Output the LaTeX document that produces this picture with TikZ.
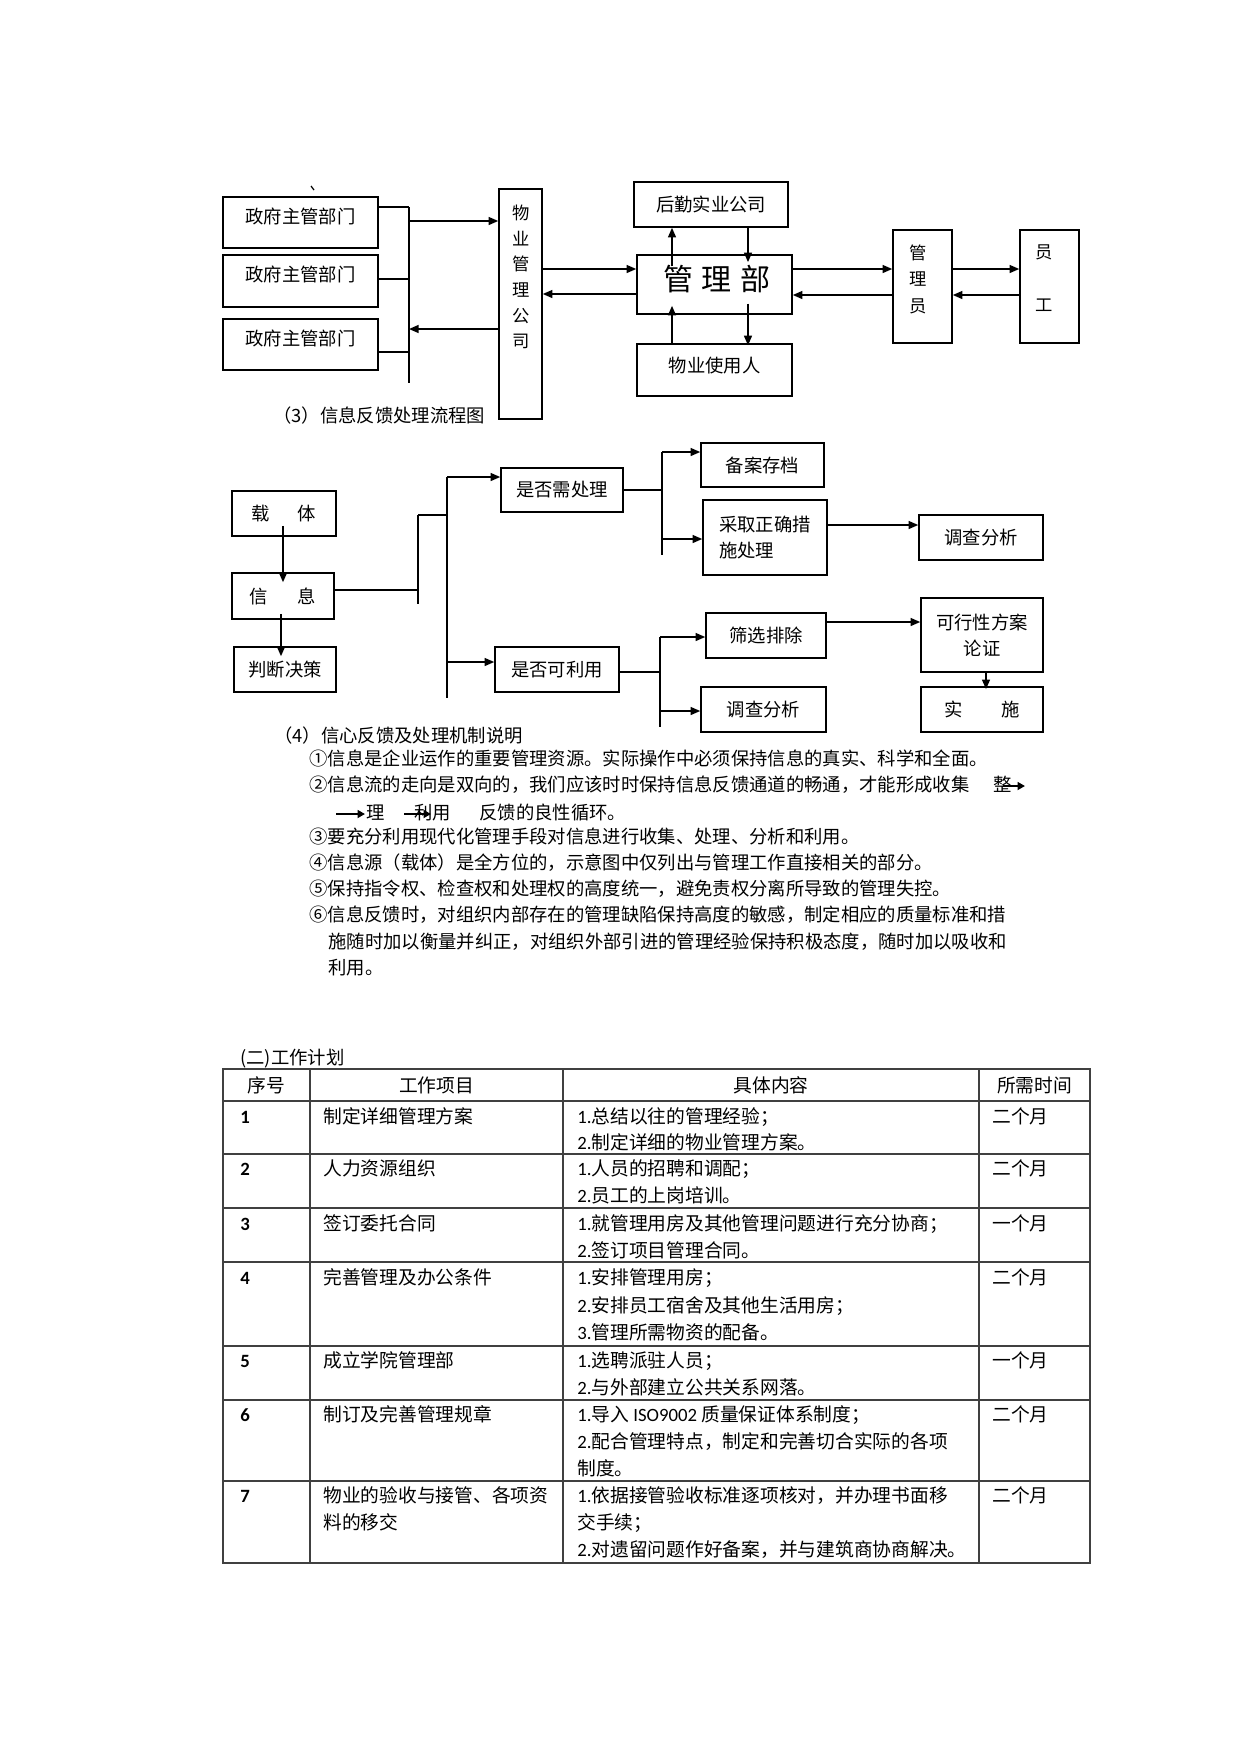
\documentclass[tikz,border=0pt]{standalone}
\usepackage{fontspec}
\setmainfont{Noto Sans CJK SC}
\newfontfamily\latf{Carlito}
\usetikzlibrary{arrows.meta}
\newdimen\pxu
\pxu=0.48pt
\newcommand\fsz{\fontsize{8.8pt}{12.5pt}\selectfont}
\newcommand\fsv{\fontsize{8.3pt}{12.3pt}\selectfont}
\newcommand\fst{\fontsize{9pt}{12.7pt}\selectfont}
\newcommand\fsbig{\fontsize{14.4pt}{16pt}\selectfont}
\newcommand\latn[1]{{\latf #1}}
\newcommand\latb[1]{{\latf\bfseries #1}}
\tikzset{
  box/.style={draw, line width=0.75pt, inner sep=0pt, font=\fsz, align=center},
  wh/.style 2 args={minimum width=#1*\pxu, minimum height=#2*\pxu},
  lift/.style={text height=7.7pt, text depth=#1},
  ln/.style={line width=0.75pt},
  arr/.style={line width=0.75pt, -{Triangle[length=4.6pt,width=3.8pt]}},
  sarr/.style={line width=1.1pt, -{Triangle[length=3.6pt,width=3.8pt]}},
  lbl/.style={inner sep=0pt, font=\fsz},
  para/.style={inner sep=0pt, anchor=base west, font=\fsz},
  cell/.style={inner sep=0pt, anchor=base west, font=\fst},
  head/.style={inner sep=0pt, anchor=base, font=\fst},
  tl/.style={line width=0.7pt, draw=black!75},
}
\begin{document}
\begin{tikzpicture}[x=0.48pt,y=-0.48pt]
\fill[white] (0,0) rectangle (1241,1754);
\useasboundingbox (0,0) rectangle (1241,1754);

% ---------- top diagram ----------
\draw[line width=0.6pt] (311,186) -- (314,190);
\node[box, wh={155}{51}, lift=6.85pt] (g1) at (300.5,222.5) {政府主管部门};
\node[box, wh={155}{52}, lift=6.85pt] (g2) at (300.5,281) {政府主管部门};
\node[box, wh={155}{51}, lift=6.85pt] (g3) at (300.5,344.5) {政府主管部门};
\node[box, wh={43}{230}] (wy) at (520.5,304) {};
\node[lbl, font=\fsv, align=center] (wyt) at (521.5,277) {物\\业\\管\\理\\公\\司};
\node[box, wh={154}{45}] (hq) at (711,204.5) {后勤实业公司};
\node[box, wh={155}{59}] (glb) at (714.5,284.5) {};
\node[lbl, font=\fsbig] (glbt) at (717,279) {管\hspace{4.3pt}理\hspace{4.3pt}部};
\node[box, wh={155}{52}, lift=4.9pt] (syr) at (714.5,370) {物业使用人};
\node[box, wh={59}{113}] (gly) at (922.5,286.5) {};
\node[lbl, font=\fontsize{8.3pt}{12.7pt}\selectfont, align=center] (glyt) at (918,279) {管\\理\\员};
\node[box, wh={59}{113}] (yg) at (1049.5,286.5) {};
\node[lbl, font=\fontsize{8.3pt}{25.4pt}\selectfont, align=center] (ygt) at (1044,278) {员\\工};
\node[lbl, anchor=base west] (cap3) at (273,422) {（3）信息反馈处理流程图};

\coordinate (bt) at (409,207);
\coordinate (bb) at (409,383);
\coordinate (b2) at (409,279);
\coordinate (b3) at (409,352);
\coordinate (ba1) at (409,221);
\coordinate (ba2) at (409,329);
\draw[ln] (bt) -- (bb);
\draw[ln] (g1.east |- bt) -- (bt);
\draw[ln] (g2.east |- b2) -- (b2);
\draw[ln] (g3.east |- b3) -- (b3);
\draw[arr] (ba1) -- (ba1 -| wy.west);
\draw[arr] (ba2 -| wy.west) -- (ba2);
\draw[arr] (wy.east |- 0,269) -- (glb.west |- 0,269);
\draw[arr] (glb.west |- 0,294) -- (wy.east |- 0,294);
\draw[arr, shorten <=-5.8pt] (glb.north -| 672,0) -- (hq.south -| 672,0);
\draw[arr, shorten >=-3.8pt] (hq.south -| 748,0) -- (glb.north -| 748,0);
\draw[arr, shorten >=-4.3pt] (syr.north -| 672,0) -- (glb.south -| 672,0);
\draw[arr, shorten <=-5.3pt, shorten >=-1pt] (glb.south -| 748,0) -- (syr.north -| 748,0);
\draw[arr] (glb.east |- 0,269) -- (gly.west |- 0,269);
\draw[arr] (gly.west |- 0,295) -- (glb.east |- 0,295);
\draw[arr] (gly.east |- 0,269) -- (yg.west |- 0,269);
\draw[arr] (yg.west |- 0,295) -- (gly.east |- 0,295);

% ---------- second diagram ----------
\node[box, wh={104}{45}] (zt) at (284,513.5) {载\hspace{13.4pt}体};
\node[box, wh={102}{46}] (xx) at (283,596) {信\hspace{14.4pt}息};
\node[box, wh={102}{45}] (pd) at (285,669.5) {判断决策};
\node[box, wh={122}{44}] (sf) at (562,490) {是否需处理};
\node[box, wh={124}{45}] (ky) at (557,669.5) {是否可利用};
\node[box, wh={123}{44}] (ba) at (762.5,465) {备案存档};
\node[box, wh={124}{75}, align=left] (cq) at (765,537.5) {采取正确措\\施处理};
\node[box, wh={124}{45}] (dc1) at (981,537.5) {调查分析};
\node[box, wh={120}{45}] (sx) at (766,635.5) {筛选排除};
\node[box, wh={125}{45}] (dc2) at (763.5,709.5) {调查分析};
\node[box, wh={122}{74}] (kx) at (982,635) {可行性方案\\论证};
\node[box, wh={122}{45}] (ss) at (982,709.5) {实\hspace{18.7pt}施};

\draw[arr, shorten <=-5.3pt, shorten >=-4.8pt] (zt.south -| 283,0) -- (xx.north -| 283,0);
\draw[arr, shorten <=-2.9pt, shorten >=-4.8pt] (xx.south -| 281,0) -- (pd.north -| 281,0);
\coordinate (b1t) at (418,515);
\coordinate (b1b) at (418,604);
\coordinate (b2t) at (447,477);
\coordinate (b2b) at (447,698);
\coordinate (b3t) at (662,452);
\coordinate (b3b) at (662,555);
\coordinate (b4t) at (660,637);
\coordinate (b4b) at (660,727);
\draw[ln] (b1t) -- (b1b);
\draw[ln] (b2t) -- (b2b);
\draw[ln] (b3t) -- (b3b);
\draw[ln] (b4t) -- (b4b);
\draw[ln] (xx.east |- 0,590) -- (b1t |- 0,590);
\draw[ln] (b1t) -- (b1t -| b2t);
\draw[arr] (b2t) -- (b2t -| sf.west);
\draw[arr] (b2t |- 0,662) -- (ky.west |- 0,662);
\draw[ln] (sf.east) -- (sf.east -| b3t);
\draw[arr] (b3t) -- (b3t -| ba.west);
\draw[arr] (b3t |- 0,539) -- (cq.west |- 0,539);
\draw[arr] (cq.east |- 0,525) -- (dc1.west |- 0,525);
\draw[ln] (ky.east |- 0,672) -- (b4t |- 0,672);
\draw[arr] (b4t) -- (b4t -| sx.west);
\draw[arr] (b4t |- 0,711) -- (dc2.west |- 0,711);
\draw[arr] (sx.east |- 0,622) -- (kx.west |- 0,622);
\draw[arr, shorten >=-1.4pt] (kx.south -| 986,0) -- (ss.north -| 986,0);

% ---------- explanation text ----------
\node[para] (t0) at (274,742) {（4）信心反馈及处理机制说明};
\node[para] (t1) at (309,765) {①信息是企业运作的重要管理资源。实际操作中必须保持信息的真实、科学和全面。};
\node[para] (t2) at (309,791) {②信息流的走向是双向的，我们应该时时保持信息反馈通道的畅通，才能形成收集};
\node[para] (t2b) at (993,791) {整};
\node[para] (t3a) at (366,819) {理};
\node[para] (t3b) at (414,819) {利用};
\node[para] (t3c) at (479,819) {反馈的良性循环。};
\coordinate (a1s) at (1003,786);
\coordinate (a1e) at (1025,786);
\coordinate (a2s) at (336,814);
\coordinate (a2e) at (365,814);
\coordinate (a3s) at (404,814);
\coordinate (a3e) at (431,814);
\draw[sarr] (a1s) -- (a1e);
\draw[sarr] (a2s) -- (a2e);
\draw[sarr] (a3s) -- (a3e);
\node[para] (t4) at (309,843) {③要充分利用现代化管理手段对信息进行收集、处理、分析和利用。};
\node[para] (t5) at (309,869) {④信息源（载体）是全方位的，示意图中仅列出与管理工作直接相关的部分。};
\node[para] (t6) at (309,895) {⑤保持指令权、检查权和处理权的高度统一，避免责权分离所导致的管理失控。};
\node[para] (t7) at (309,921) {⑥信息反馈时，对组织内部存在的管理缺陷保持高度的敏感，制定相应的质量标准和措};
\node[para] (t8) at (328,948) {施随时加以衡量并纠正，对组织外部引进的管理经验保持积极态度，随时加以吸收和};
\node[para] (t9) at (328,974) {利用。};

% ---------- table ----------
\node[para] (cap2) at (240,1064) {(二)工作计划};
\draw[tl] (223,1069) rectangle (1090,1563);
\foreach \yy in {1101,1154,1208,1262,1346,1400,1481} \draw[tl] (223,\yy) -- (1090,\yy);
\foreach \xx in {310,563,979} \draw[tl] (\xx,1069) -- (\xx,1563);

\node[head] (h1) at (266.5,1092) {序号};
\node[head] (h2) at (436.5,1092) {工作项目};
\node[head] (h3) at (771,1092) {具体内容};
\node[head] (h4) at (1034.5,1092) {所需时间};

% row 1
\node[cell] (r1a) at (240,1123) {\latb{1}};
\node[cell] (r1b) at (323,1123) {制定详细管理方案};
\node[cell] (r1c) at (577,1123) {\latn{1.}总结以往的管理经验；};
\node[cell] (r1d) at (577,1149) {\latn{2.}制定详细的物业管理方案。};
\node[cell] (r1e) at (992,1123) {二个月};
% row 2
\node[cell] (r2a) at (240,1175) {\latb{2}};
\node[cell] (r2b) at (323,1175) {人力资源组织};
\node[cell] (r2c) at (577,1175) {\latn{1.}人员的招聘和调配；};
\node[cell] (r2d) at (577,1202) {\latn{2.}员工的上岗培训。};
\node[cell] (r2e) at (992,1175) {二个月};
% row 3
\node[cell] (r3a) at (240,1230) {\latb{3}};
\node[cell] (r3b) at (323,1230) {签订委托合同};
\node[cell] (r3c) at (577,1230) {\latn{1.}就管理用房及其他管理问题进行充分协商；};
\node[cell] (r3d) at (577,1257) {\latn{2.}签订项目管理合同。};
\node[cell] (r3e) at (992,1230) {一个月};
% row 4
\node[cell] (r4a) at (240,1284) {\latb{4}};
\node[cell] (r4b) at (323,1284) {完善管理及办公条件};
\node[cell] (r4c) at (577,1284) {\latn{1.}安排管理用房；};
\node[cell] (r4d) at (577,1312) {\latn{2.}安排员工宿舍及其他生活用房；};
\node[cell] (r4f) at (577,1339) {\latn{3.}管理所需物资的配备。};
\node[cell] (r4e) at (992,1284) {二个月};
% row 5
\node[cell] (r5a) at (240,1367) {\latb{5}};
\node[cell] (r5b) at (323,1367) {成立学院管理部};
\node[cell] (r5c) at (577,1367) {\latn{1.}选聘派驻人员；};
\node[cell] (r5d) at (577,1394) {\latn{2.}与外部建立公共关系网落。};
\node[cell] (r5e) at (992,1367) {一个月};
% row 6
\node[cell] (r6a) at (240,1421) {\latb{6}};
\node[cell] (r6b) at (323,1421) {制订及完善管理规章};
\node[cell] (r6c) at (577,1421) {\latn{1.}导入 \latn{ISO9002} 质量保证体系制度；};
\node[cell] (r6d) at (577,1448) {\latn{2.}配合管理特点，制定和完善切合实际的各项};
\node[cell] (r6f) at (577,1475) {制度。};
\node[cell] (r6e) at (992,1421) {二个月};
% row 7
\node[cell] (r7a) at (240,1502) {\latb{7}};
\node[cell] (r7b) at (323,1502) {物业的验收与接管、各项资};
\node[cell] (r7g) at (323,1529) {料的移交};
\node[cell] (r7c) at (577,1502) {\latn{1.}依据接管验收标准逐项核对，并办理书面移};
\node[cell] (r7d) at (577,1529) {交手续；};
\node[cell] (r7f) at (577,1556) {\latn{2.}对遗留问题作好备案，并与建筑商协商解决。};
\node[cell] (r7e) at (992,1502) {二个月};
\end{tikzpicture}
\end{document}
